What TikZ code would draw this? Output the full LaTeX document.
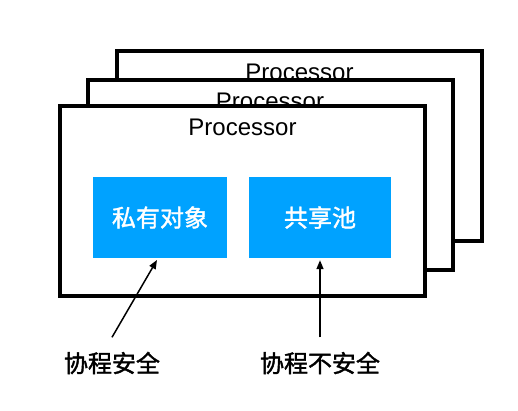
\documentclass[tikz,border=0pt]{standalone}
\usepackage{fontspec}
\setmainfont{Liberation Sans}
\newfontfamily\cjk[FakeBold=1.5]{Noto Sans CJK SC}
\usetikzlibrary{arrows.meta, positioning, calc}
\definecolor{poolblue}{HTML}{00A2FF}

\begin{document}
\begin{tikzpicture}[x=1pt, y=-1pt, >={Triangle[length=9pt, width=7pt]},
  procbox/.style={draw=black, fill=white, line width=4pt, inner sep=0pt,
    minimum width=365pt, minimum height=190pt},
  proctitle/.style={anchor=base, font=\fontsize{24}{28}\selectfont},
  objbox/.style={fill=poolblue, inner sep=0pt, minimum height=81pt,
    text=white, font=\cjk\fontsize{24}{28}\selectfont},
  note/.style={font=\cjk\fontsize{24}{28}\selectfont}]

% Canvas
\useasboundingbox (0,0) rectangle (518,410);

% --- Stacked processors (back to front) ---
\node[procbox] (backproc) at (299.5,146) {};
\node[proctitle] (backtitle) at ([yshift=-31pt]backproc.north) {Processor};

\node[procbox] (midproc) at (270,175) {};
\node[proctitle] (midtitle) at ([yshift=-31pt]midproc.north) {Processor};

\node[procbox] (frontproc) at (242.5,201) {};
\node[proctitle] (fronttitle) at ([yshift=-31pt]frontproc.north) {Processor};

% --- Objects inside the front processor ---
\node[objbox, minimum width=134pt] (priv) at (160,217.5) {私有对象};
\node[objbox, minimum width=142pt] (pool) at (320,217.5) {共享池};

% --- Notes below ---
\node[note] (safe) at (112,363) {协程安全};
\node[note] (unsafe) at (320,363) {协程不安全};

\draw[->, line width=1.5pt, shorten >=2pt] ([yshift=11pt]safe.north)
  -- ([xshift=-2pt]priv.south);
\draw[->, line width=1.5pt, shorten >=2pt] ([yshift=11pt]unsafe.north)
  -- (pool.south);

\end{tikzpicture}
\end{document}
